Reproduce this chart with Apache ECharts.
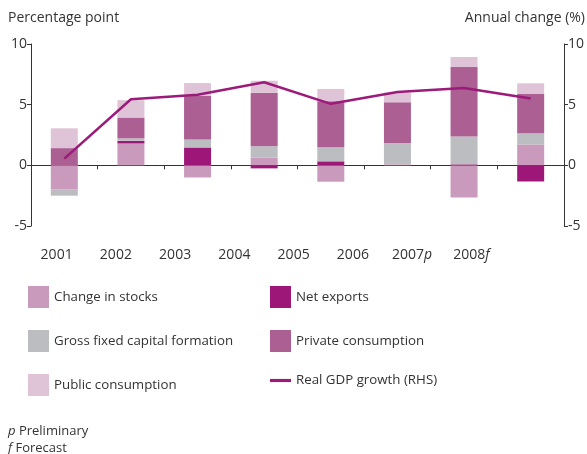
<!DOCTYPE html>
<html>
<head>
<meta charset="utf-8">
<script src="https://cdn.jsdelivr.net/npm/echarts@6/dist/echarts.min.js"></script>
<style>
  html, body { margin: 0; padding: 0; background: #fff; }
  #chart { width: 587px; height: 454px; }
</style>
</head>
<body>
<div id="chart"></div>
<script>
// contributions to growth, percentage points
const years = ['2001', '2002', '2003', '2004', '2005', '2006', '2007p', '2008f'];
const stocks = [-2.0, 1.8, -1.0, 0.65, -1.35, 0.08, -2.65, 1.72];
const netExports = [0, 0.22, 1.47, -0.25, 0.33, 0, 0.08, -1.33];
const gfcf = [-0.5, 0.2, 0.66, 0.92, 1.16, 1.76, 2.29, 0.93];
const privateCons = [1.42, 1.72, 3.6, 4.4, 3.8, 3.36, 5.73, 3.23];
const publicCons = [1.63, 1.43, 1.05, 1.0, 1.0, 0.8, 0.83, 0.88];
// real GDP growth, % (RHS)
const gdpGrowth = [0.55, 5.45, 5.82, 6.85, 5.07, 6.04, 6.38, 5.5];
const yTicks = [-5, 0, 5, 10];

const FONT = 'Open Sans';
const TEXT = '#333333';
const AXIS = '#333333';

const chart = echarts.init(document.getElementById('chart'));

const barSeries = (name, data, color) => ({
    name: name,
    type: 'bar',
    stack: 'total',
    data: data,
    barWidth: 27,
    itemStyle: { color: color },
    xAxisIndex: 0,
    yAxisIndex: 0
});

const yearLabel = v => v.replace(/^(\d{4})([pf])$/, '$1{i|$2}');
const lineIcon = 'path://M0,0 H20 V3 H0 Z';

const legendBase = {
    orient: 'vertical', top: 286, padding: 0,
    itemWidth: 21, itemHeight: 22, itemGap: 22,
    icon: 'rect',
    textStyle: { fontFamily: FONT, fontSize: 13.3, color: TEXT },
    selectedMode: false
};

const option = {
    animation: false,
    textStyle: { fontFamily: FONT },
    title: [
        { text: 'Percentage point', left: 8, top: 11, padding: 0, textStyle: { fontFamily: FONT, fontSize: 14, fontWeight: 'normal', color: TEXT } },
        { text: 'Annual change (%)', right: 2, top: 11, padding: 0, textStyle: { fontFamily: FONT, fontSize: 14, fontWeight: 'normal', color: TEXT } },
        {
            text: '{i|p} Preliminary\n{i|f} Forecast',
            left: 3, top: 418,
            textStyle: {
                fontFamily: FONT, fontSize: 13, fontWeight: 'normal', color: TEXT, lineHeight: 17,
                rich: { i: { fontStyle: 'italic', fontFamily: FONT, fontSize: 13, color: TEXT } }
            }
        }
    ],
    legend: [
        Object.assign({}, legendBase, {
            left: 28,
            data: ['Change in stocks', 'Gross fixed capital formation', 'Public consumption']
        }),
        Object.assign({}, legendBase, {
            left: 270,
            data: ['Net exports', 'Private consumption', { name: 'Real GDP growth (RHS)', icon: lineIcon }]
        })
    ],
    grid: [
        { left: 31, right: 23, top: 44, height: 182 },
        // label-only grid: the year labels sit on a narrower pitch than the bars
        { left: 27, width: 474, top: 44, height: 182 }
    ],
    xAxis: [
        {
            type: 'category', gridIndex: 0, data: years,
            axisLine: { onZero: true, lineStyle: { color: AXIS, width: 1 } },
            axisTick: { show: true, length: 4, lineStyle: { color: AXIS } },
            axisLabel: { show: false }
        },
        {
            type: 'category', gridIndex: 1, data: years,
            axisLine: { show: false }, axisTick: { show: false },
            axisLabel: {
                interval: 0, margin: 22, fontSize: 14, color: TEXT, fontFamily: FONT,
                formatter: yearLabel,
                rich: { i: { fontStyle: 'italic', fontSize: 14, color: TEXT, fontFamily: FONT } }
            }
        }
    ],
    yAxis: [
        {
            type: 'value', gridIndex: 0, position: 'left',
            min: yTicks[0], max: yTicks[yTicks.length - 1], interval: 5,
            axisLine: { show: true, lineStyle: { color: AXIS } },
            axisTick: { show: true, length: 4, lineStyle: { color: AXIS } },
            axisLabel: { fontSize: 14, color: TEXT, margin: 4, fontFamily: FONT },
            splitLine: { show: false }
        },
        {
            type: 'value', gridIndex: 0, position: 'right',
            min: yTicks[0], max: yTicks[yTicks.length - 1], interval: 5,
            axisLine: { show: true, lineStyle: { color: AXIS } },
            axisTick: { show: true, length: 4, lineStyle: { color: AXIS } },
            axisLabel: { fontSize: 14, color: TEXT, margin: 4, fontFamily: FONT },
            splitLine: { show: false }
        },
        { type: 'value', gridIndex: 1, show: false, min: -5, max: 10 }
    ],
    series: [
        barSeries('Change in stocks', stocks, '#c99abb'),
        barSeries('Net exports', netExports, '#9c1777'),
        barSeries('Gross fixed capital formation', gfcf, '#bcbdc0'),
        barSeries('Private consumption', privateCons, '#ab5f93'),
        barSeries('Public consumption', publicCons, '#dfc4d7'),
        {
            name: 'Real GDP growth (RHS)',
            type: 'line',
            data: gdpGrowth,
            xAxisIndex: 0,
            yAxisIndex: 1,
            symbol: 'none',
            z: 5,
            lineStyle: { color: '#9c1a7a', width: 2.5 },
            itemStyle: { color: '#9c1a7a' }
        }
    ]
};

chart.setOption(option);
</script>
</body>
</html>
